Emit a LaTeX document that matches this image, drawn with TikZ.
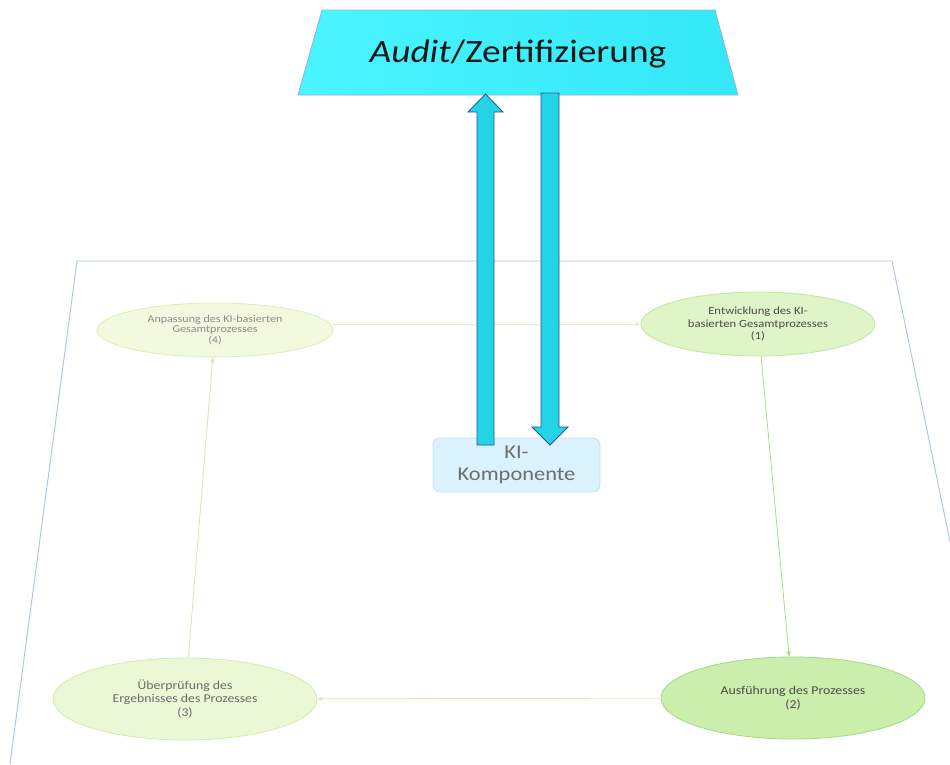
\documentclass[tikz,border=0pt]{standalone}
\usepackage{fontspec}
\setmainfont{Carlito}[FakeStretch=1.15]
\usetikzlibrary{shapes.geometric,arrows.meta}

\definecolor{frameblue}{HTML}{A9C3EE}
\definecolor{auditfillL}{HTML}{4AF4FF}
\definecolor{auditfillR}{HTML}{34E8F8}
\definecolor{auditline}{HTML}{8EB4DA}
\definecolor{arrowfill}{HTML}{22D4E4}
\definecolor{arrowline}{HTML}{2E4E9C}
\definecolor{kifill}{HTML}{D9F2FC}
\definecolor{kiline}{HTML}{BFE3F6}
\definecolor{kitext}{HTML}{6E6E6E}
\definecolor{paleA}{HTML}{F1F9DF}
\definecolor{paleAline}{HTML}{DAF0B6}
\definecolor{midA}{HTML}{DFF4C7}
\definecolor{midAline}{HTML}{BDE8A0}
\definecolor{lightA}{HTML}{EBF8D6}
\definecolor{lightAline}{HTML}{CFEEAC}
\definecolor{deepA}{HTML}{CBEEAD}
\definecolor{deepAline}{HTML}{A2DA82}
\definecolor{connA}{HTML}{C9EEAA}
\definecolor{connB}{HTML}{A6DE86}

\tikzset{
  frame/.style={draw=frameblue, line width=0.9pt},
  phase/.style={ellipse, inner sep=0pt, align=center, line width=0.8pt},
  conn/.style={line width=0.8pt, -{Triangle[length=5pt,width=4pt]}},
  bigarrow/.style={fill=arrowfill, draw=arrowline, line width=0.8pt, line join=miter},
}

\begin{document}
\begin{tikzpicture}[x=1pt,y=-1pt]
\useasboundingbox (0,0) rectangle (950,764);
\fill[white] (0,0) rectangle (950,764);

% surrounding frame of the process cycle
\begin{scope}
  \clip (0,0) rectangle (950,764);
  \draw[frame] (10,764) -- (77,261) -- (892,261) -- (996,764);
\end{scope}

% the four phases
\node[phase, minimum width=236pt, minimum height=54pt, fill=paleA, draw=paleAline,
      text=black!45, font=\fontsize{10.5}{10.5}\selectfont] (p4) at (215,330)
  {Anpassung des KI-basierten\\Gesamtprozesses\\(4)};
\node[phase, minimum width=234pt, minimum height=64pt, fill=midA, draw=midAline,
      text=black!70, font=\fontsize{11}{12.5}\selectfont] (p1) at (758,324)
  {Entwicklung des KI-\\basierten Gesamtprozesses\\(1)};
\node[phase, minimum width=264pt, minimum height=82pt, fill=deepA, draw=deepAline,
      text=black!70, font=\fontsize{12}{14}\selectfont] (p2) at (793,698)
  {Ausführung des Prozesses\\(2)};
\node[phase, minimum width=264pt, minimum height=82pt, fill=lightA, draw=lightAline,
      text=black!58, font=\fontsize{12}{13.5}\selectfont] (p3) at (185,699)
  {Überprüfung des\\Ergebnisses des Prozesses\\(3)};

% cycle connectors
\draw[conn, draw=connA!70] (p4.east |- p1.west) -- (p1.west);
\draw[conn, draw=connB] (p1) -- (p2);
\draw[conn, draw=connA!80] (p2) -- (p3);
\draw[conn, draw=connA] (p3) -- (p4);

% AI component
\node[draw=kiline, fill=kifill, rounded corners=7pt, line width=0.8pt,
      minimum width=167pt, minimum height=54pt, align=center, text=kitext,
      font=\fontsize{19.5}{22}\selectfont] (ki) at (516.5,465) {KI-\\Komponente};

% audit / certification block
\shade[left color=auditfillL, right color=auditfillR, draw=auditline, line width=0.8pt]
  (322,10) -- (715,10) -- (738,95) -- (298,95) -- cycle;
\node[font=\fontsize{32.5}{36}\selectfont, anchor=base, text=black!90] (audit) at (518,62)
  {\textit{Audit}/Zertifizierung};

% exchange between the component and the audit
\draw[bigarrow] (477,445) -- (477,112) -- (468,112) -- (485.5,94) -- (503,112)
  -- (494,112) -- (494,445) -- cycle;
\draw[bigarrow] (541,93) -- (559,93) -- (559,427) -- (568,427) -- (550,445)
  -- (532,427) -- (541,427) -- cycle;
\end{tikzpicture}
\end{document}
